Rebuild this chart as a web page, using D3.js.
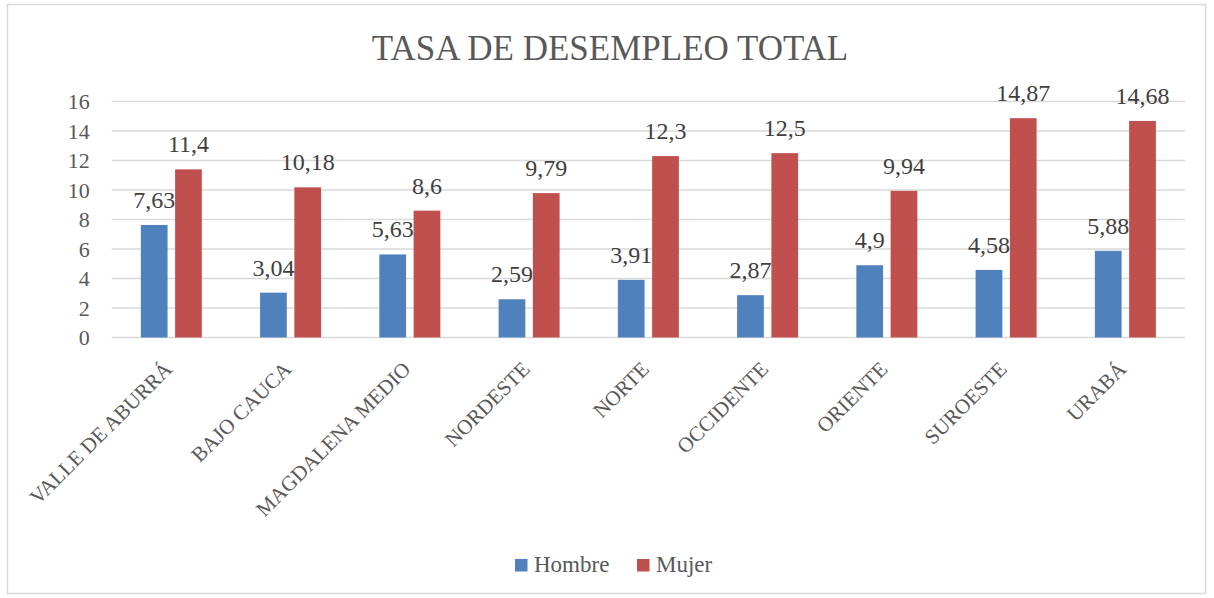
<!DOCTYPE html>
<html>
<head>
<meta charset="utf-8">
<script src="https://cdn.jsdelivr.net/npm/d3@7"></script>
<style>
  body { margin: 0; background: #fff; }
  text { font-family: "Liberation Serif", "DejaVu Serif", serif; }
</style>
</head>
<body>
<div id="chart"></div>
<script>
// Data
const regiones = ["VALLE DE ABURRÁ", "BAJO CAUCA", "MAGDALENA MEDIO", "NORDESTE", "NORTE",
    "OCCIDENTE", "ORIENTE", "SUROESTE", "URABÁ"];
const hombre = [7.63, 3.04, 5.63, 2.59, 3.91, 2.87, 4.9, 4.58, 5.88];
const mujer = [11.4, 10.18, 8.6, 9.79, 12.3, 12.5, 9.94, 14.87, 14.68];
const seriesNames = ["Hombre", "Mujer"];
const yTicks = [0, 2, 4, 6, 8, 10, 12, 14, 16];

const colors = { Hombre: "#4F81BD", Mujer: "#C0504D" };
const width = 1214, height = 598;

const svg = d3.select("#chart")
    .append("svg")
    .attr("width", width)
    .attr("height", height);

// Chart border
svg.append("rect")
    .attr("x", 7.5).attr("y", 4.5)
    .attr("width", 1198).attr("height", 589)
    .attr("fill", "#fff")
    .attr("stroke", "#d9d9d9")
    .attr("stroke-width", 1.5);

// Title
svg.append("text")
    .attr("x", 610)
    .attr("y", 60)
    .attr("text-anchor", "middle")
    .style("font-size", "35px")
    .style("fill", "#595959")
    .text("TASA DE DESEMPLEO TOTAL");

const plot = { left: 111.7, right: 1185, top: 101.5, bottom: 337.5 };

const x0 = d3.scaleBand()
    .domain(regiones)
    .range([plot.left, plot.right]);

const bw = x0.bandwidth();
const x1 = d3.scaleBand()
    .domain(seriesNames)
    .range([bw / 2 - 30.5, bw / 2 + 30.5])
    .paddingInner(0.22);

const y = d3.scaleLinear()
    .domain([0, 16])
    .range([plot.bottom, plot.top]);

// Gridlines
svg.append("g")
    .selectAll("line")
    .data(yTicks)
    .enter()
    .append("line")
    .attr("x1", plot.left)
    .attr("x2", plot.right)
    .attr("y1", d => y(d))
    .attr("y2", d => y(d))
    .style("stroke", "#d9d9d9")
    .style("stroke-width", "1.5px");

// Y axis labels
const yAxis = svg.append("g")
    .attr("transform", `translate(${plot.left - 22},0)`)
    .call(d3.axisLeft(y).tickValues(yTicks).tickSize(0).tickPadding(0));
yAxis.select(".domain").remove();
yAxis.attr("font-family", null).attr("font-size", null);
yAxis.selectAll("text")
    .style("font-family", "'Liberation Serif', serif")
    .style("font-size", "22px")
    .style("fill", "#595959");

// Bars
const rows = regiones.map((r, i) => ({ region: r, values: [
    { key: "Hombre", value: hombre[i] },
    { key: "Mujer", value: mujer[i] }
] }));

const group = svg.selectAll(".grp")
    .data(rows)
    .enter()
    .append("g")
    .attr("class", "grp")
    .attr("transform", d => `translate(${x0(d.region)},0)`);

group.selectAll("rect")
    .data(d => d.values)
    .enter()
    .append("rect")
    .attr("x", d => x1(d.key))
    .attr("y", d => y(d.value))
    .attr("width", x1.bandwidth())
    .attr("height", d => y(0) - y(d.value))
    .style("fill", d => colors[d.key]);

// Data labels
group.selectAll(".lbl")
    .data(d => d.values)
    .enter()
    .append("text")
    .attr("class", "lbl")
    .attr("x", d => x1(d.key) + x1.bandwidth() / 2)
    .attr("y", d => y(d.value) - 17)
    .attr("text-anchor", "middle")
    .style("font-size", "24px")
    .style("fill", "#404040")
    .text(d => String(d.value).replace(".", ","));

// X axis labels
svg.append("g")
    .selectAll("text")
    .data(regiones)
    .enter()
    .append("text")
    .attr("transform", d => `translate(${x0(d) + bw / 2 + 2},${plot.bottom + 33}) rotate(-45)`)
    .attr("text-anchor", "end")
    .style("font-size", "21px")
    .style("fill", "#595959")
    .text(d => d);

// Legend
const legend = svg.append("g")
    .attr("transform", "translate(515,559)");

const legendItems = legend.selectAll("g")
    .data(seriesNames)
    .enter()
    .append("g")
    .attr("transform", (d, i) => `translate(${i * 122},0)`);

legendItems.append("rect")
    .attr("width", 12.5)
    .attr("height", 12.5)
    .style("fill", d => colors[d]);

legendItems.append("text")
    .attr("x", 19)
    .attr("y", 13)
    .style("font-size", "23px")
    .style("fill", "#595959")
    .text(d => d);
</script>
</body>
</html>
